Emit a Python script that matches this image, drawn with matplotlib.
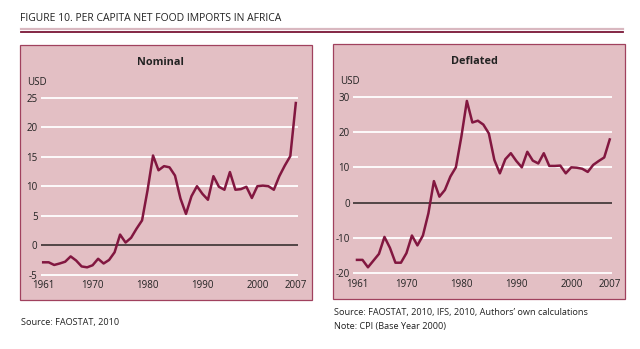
import matplotlib
matplotlib.use("Agg")
import matplotlib.pyplot as plt
from matplotlib.patches import Rectangle
from matplotlib.lines import Line2D

plt.rcParams['font.family'] = ['Open Sans', 'DejaVu Sans']
plt.rcParams['axes.unicode_minus'] = False

years = list(range(1961, 2008))

nominal = [-2.9, -2.9, -3.35, -3.1, -2.8, -1.9, -2.6, -3.6, -3.75, -3.4,
           -2.3, -3.1, -2.5, -1.2, 1.8, 0.45, 1.25, 2.8, 4.2, 9.3,
           15.2, 12.7, 13.4, 13.2, 11.8, 7.9, 5.3, 8.3, 10.0, 8.7,
           7.7, 11.7, 9.9, 9.4, 12.4, 9.4, 9.5, 9.9, 8.0, 10.0,
           10.1, 10.0, 9.4, 11.7, 13.5, 15.1, 24.1]

deflated = [-16.2, -16.2, -18.3, -16.4, -14.5, -9.7, -12.8, -17.0, -17.0, -14.3,
            -9.3, -12.1, -9.3, -3.0, 6.1, 1.7, 3.6, 7.4, 10.0, 18.7,
            28.8, 22.7, 23.2, 22.1, 19.6, 12.1, 8.3, 12.3, 14.0, 11.8,
            10.0, 14.4, 11.9, 11.1, 14.0, 10.4, 10.4, 10.5, 8.3, 10.0,
            9.9, 9.6, 8.7, 10.7, 11.8, 12.8, 17.9]

xticks = [1961, 1970, 1980, 1990, 2000, 2007]
nominal_yticks = [-5, 0, 5, 10, 15, 20, 25]
deflated_yticks = [-20, -10, 0, 10, 20, 30]

W, H = 640, 349
PINK = '#E3BFC4'
FRAME = '#A0415E'
LINE = '#821740'
TXT = '#222222'

fig = plt.figure(figsize=(W / 100, H / 100), dpi=100)


def box(x0, y0, x1, y1):
    return [x0 / W, 1 - y1 / H, (x1 - x0) / W, (y1 - y0) / H]


# heading and double rule
fig.text(20 / W, 1 - 18.5 / H, 'FIGURE 10. PER CAPITA NET FOOD IMPORTS IN AFRICA',
         fontsize=7.5, color=TXT, va='center', ha='left')
fig.add_artist(Line2D([21 / W, 623 / W], [1 - 29.4 / H] * 2, color='#D9B8C0', lw=1.6))
fig.add_artist(Line2D([21 / W, 623 / W], [1 - 31.8 / H] * 2, color='#7A1636', lw=1.3))


def panel(frame, plot_box, title, title_xy, usd_xy, yrs, vals, yticks, xlim, ylim):
    fx0, fy0, fx1, fy1 = frame
    fig.add_artist(Rectangle((fx0 / W, 1 - fy1 / H), (fx1 - fx0) / W, (fy1 - fy0) / H,
                             facecolor=PINK, edgecolor=FRAME, lw=0.9,
                             transform=fig.transFigure, zorder=0))
    fig.text(title_xy[0] / W, 1 - title_xy[1] / H, title, fontsize=7.8,
             fontweight='bold', color=TXT, ha='center', va='center')
    fig.text(usd_xy[0] / W, 1 - usd_xy[1] / H, 'USD', fontsize=7,
             color=TXT, ha='left', va='center')

    ax = fig.add_axes(box(*plot_box))
    ax.patch.set_alpha(0)
    for s in ax.spines.values():
        s.set_visible(False)
    ax.set_xlim(*xlim)
    ax.set_ylim(*ylim)
    for t in yticks:
        ax.hlines(t, xlim[0], xlim[1], color='#2b2424' if t == 0 else 'white',
                  lw=1.1 if t == 0 else 1.3, clip_on=False, zorder=1)
    ax.plot(yrs, vals, color=LINE, lw=1.8, zorder=3, clip_on=False,
            solid_joinstyle='round')
    ax.set_xticks(xticks)
    ax.set_yticks(yticks)
    ax.tick_params(length=0, labelsize=7, colors=TXT)
    ax.tick_params(axis='x', pad=4)
    ax.tick_params(axis='y', pad=2.5)
    return ax


panel((20, 44.5, 311.5, 299.5), (41, 97.7, 298, 274.7), 'Nominal', (160, 62.5), (27, 82.5),
      years, nominal, nominal_yticks, (1960.6, 2007.4), (-5, 25))
panel((332.5, 44, 624.7, 299), (353.3, 96.7, 611.7, 273.3), 'Deflated', (474, 61), (340, 81),
      years, deflated, deflated_yticks, (1960.33, 2007.36), (-20, 30))

fig.text(21 / W, 1 - 322 / H, 'Source: FAOSTAT, 2010', fontsize=6.6, color=TXT,
         ha='left', va='center')
fig.text(334 / W, 1 - 313 / H, 'Source: FAOSTAT, 2010, IFS, 2010, Authors\u2019 own calculations',
         fontsize=6.6, color=TXT, ha='left', va='center')
fig.text(334 / W, 1 - 326 / H, 'Note: CPI (Base Year 2000)', fontsize=6.6, color=TXT,
         ha='left', va='center')

fig.savefig('out.png', dpi=100, facecolor='white')
